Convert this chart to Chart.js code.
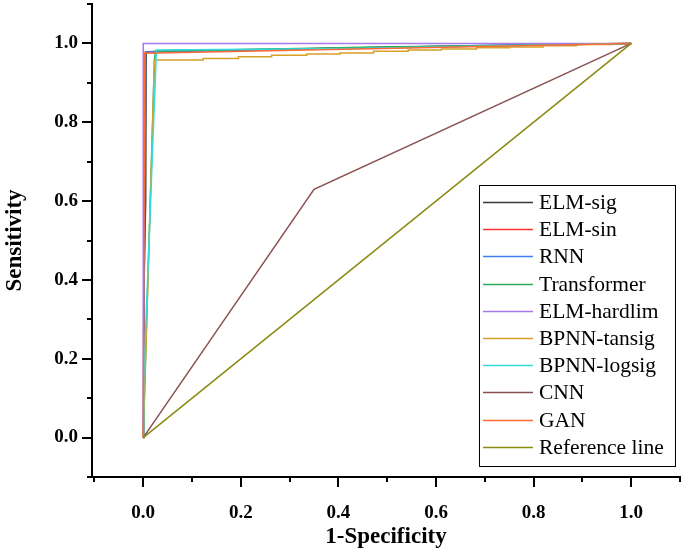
<!DOCTYPE html>
<html>
<head>
<meta charset="utf-8">
<script src="https://cdn.jsdelivr.net/npm/chart.js@4/dist/chart.umd.min.js"></script>
<style>
  body { margin: 0; background: #fff; }
  #wrap { width: 685px; height: 554px; }
</style>
</head>
<body>
<div id="wrap"><canvas id="roc"></canvas></div>
<script>
// tick values for both axes
var majorTicks = [0, 0.2, 0.4, 0.6, 0.8, 1.0];
var minorTicks = [-0.1, 0.1, 0.3, 0.5, 0.7, 0.9, 1.1];

var labels = ["ELM-sig", "ELM-sin", "RNN", "Transformer", "ELM-hardlim",
              "BPNN-tansig", "BPNN-logsig", "CNN", "GAN", "Reference line"];
var colors = ["#3a3a3a", "#ff3030", "#3d7ff0", "#2eaa5c", "#a878ec",
              "#d9a026", "#33dcdc", "#8a5050", "#ff6a33", "#8a8a10"];

// ROC points (1-specificity, sensitivity)
var elmSigX = [0, 0.001, 0.005, 0.006, 0.056, 0.5, 1];
var elmSigY = [0, 0.35, 0.6, 0.979, 0.98, 0.99, 1];
var elmSinX = [0, 0.001, 0.002, 0.004, 0.058, 0.4, 0.55, 1];
var elmSinY = [0, 0.1, 0.58, 0.978, 0.982, 0.987, 0.99, 1];
var rnnX = [0, 0.005, 0.8, 1];
var rnnY = [0, 0.978, 0.997, 1];
var transX = [0, 0.023, 0.025, 0.45, 1];
var transY = [0, 0.958, 0.98, 0.99, 1];
var hardlimX = [0, 0, 1];
var hardlimY = [0, 1, 1];
var tansigX = [0, 0.023, 0.123, 0.123, 0.195, 0.195, 0.263, 0.263, 0.335, 0.335, 0.403, 0.403,
               0.472, 0.472, 0.543, 0.543, 0.611, 0.611, 0.683, 0.683, 0.751, 0.751,
               0.819, 0.819, 0.888, 0.888, 0.959, 0.959, 1];
var tansigY = [0, 0.958, 0.958, 0.962, 0.962, 0.966, 0.966, 0.97, 0.97, 0.973, 0.973, 0.976,
               0.976, 0.98, 0.98, 0.983, 0.983, 0.986, 0.986, 0.989, 0.989, 0.991,
               0.991, 0.994, 0.994, 0.997, 0.997, 1, 1];
var logsigX = [0, 0.001, 0.027, 0.43, 1];
var logsigY = [0, 0.15, 0.983, 0.987, 1];
var cnnX = [0, 0.35, 1];
var cnnY = [0, 0.63, 1];
var ganX = [0, 0.003, 1];
var ganY = [0, 0.975, 1];
var refX = [0, 1];
var refY = [0, 1];

var seriesX = [elmSigX, elmSinX, rnnX, transX, hardlimX, tansigX, logsigX, cnnX, ganX, refX];
var seriesY = [elmSigY, elmSinY, rnnY, transY, hardlimY, tansigY, logsigY, cnnY, ganY, refY];

function toPoints(xs, ys) {
  return xs.map(function (x, i) { return { x: x, y: ys[i] }; });
}

var datasets = labels.map(function (name, i) {
  return {
    label: name,
    data: toPoints(seriesX[i], seriesY[i]),
    borderColor: colors[i],
    backgroundColor: colors[i],
    borderWidth: 1.5,
    pointRadius: 0,
    tension: 0,
    fill: false,
    order: labels.length - i // later series on top, like the original
  };
});

var serif = "'Liberation Serif', 'Times New Roman', serif";

// outward tick marks: long on major values, short on minor ones
var tickMarks = {
  id: 'tickMarks',
  afterDraw: function (chart) {
    var c = chart.ctx, a = chart.chartArea;
    var xs = chart.scales.x, ys = chart.scales.y;
    c.save();
    c.strokeStyle = '#000';
    c.lineWidth = 2;
    c.beginPath();
    majorTicks.concat(minorTicks).forEach(function (v) {
      var len = majorTicks.indexOf(v) >= 0 ? 10 : 5;
      var px = Math.round(xs.getPixelForValue(v));
      c.moveTo(px, a.bottom); c.lineTo(px, a.bottom + len);
      var py = Math.round(ys.getPixelForValue(v));
      c.moveTo(a.left, py); c.lineTo(a.left - len, py);
    });
    c.stroke();
    c.restore();
  }
};

// framed legend inside the plot, lower right
var boxLegend = {
  id: 'boxLegend',
  afterDraw: function (chart) {
    var c = chart.ctx;
    var left = 479, top = 185, w = 196, h = 281;
    c.save();
    c.fillStyle = '#fff';
    c.fillRect(left, top, w, h);
    c.strokeStyle = '#000';
    c.lineWidth = 1;
    c.strokeRect(left + 0.5, top + 0.5, w, h);
    c.font = '21.5px ' + serif;
    c.textBaseline = 'middle';
    chart.data.datasets.forEach(function (ds, i) {
      var y = Math.round(202 + i * 27.2) + 0.5;
      c.strokeStyle = ds.borderColor;
      c.lineWidth = 1.5;
      c.beginPath();
      c.moveTo(483, y); c.lineTo(533, y);
      c.stroke();
      c.fillStyle = '#000';
      c.fillText(ds.label, 539, y + 1);
    });
    c.restore();
  }
};

function axisTicks(scale) {
  scale.ticks = majorTicks.map(function (v) { return { value: v }; });
}

new Chart(document.getElementById('roc'), {
  type: 'line',
  data: { datasets: datasets },
  plugins: [tickMarks, boxLegend],
  options: {
    responsive: true,
    maintainAspectRatio: false,
    animation: false,
    layout: { padding: { top: 4, right: 5, left: 0, bottom: 0 } },
    plugins: { legend: { display: false }, tooltip: { enabled: false } },
    scales: {
      x: {
        type: 'linear',
        min: -0.105,
        max: 1.1,
        afterBuildTicks: axisTicks,
        afterFit: function (s) {
          s.height = 77;
          s.paddingLeft = 0; s.paddingRight = 0;
        },
        grid: { display: false, drawTicks: false },
        border: { display: true, color: '#000', width: 2 },
        ticks: {
          padding: 25,
          color: '#000',
          font: { family: serif, size: 19, weight: 'bold' },
          callback: function (v) { return v.toFixed(1); }
        },
        title: {
          display: true,
          text: '1-Specificity',
          color: '#000',
          padding: { top: 0, bottom: 3 },
          font: { family: serif, size: 23, weight: 'bold' }
        }
      },
      y: {
        type: 'linear',
        min: -0.1,
        max: 1.1,
        afterBuildTicks: axisTicks,
        afterFit: function (s) {
          s.width = 92;
          s.paddingTop = 0; s.paddingBottom = 0;
        },
        grid: { display: false, drawTicks: false },
        border: { display: true, color: '#000', width: 2 },
        ticks: {
          padding: 14,
          color: '#000',
          font: { family: serif, size: 19, weight: 'bold' },
          callback: function (v) { return v.toFixed(1); }
        },
        title: {
          display: true,
          text: 'Sensitivity',
          color: '#000',
          padding: { top: 1, bottom: 0 },
          font: { family: serif, size: 23, weight: 'bold' }
        }
      }
    }
  }
});
</script>
</body>
</html>
